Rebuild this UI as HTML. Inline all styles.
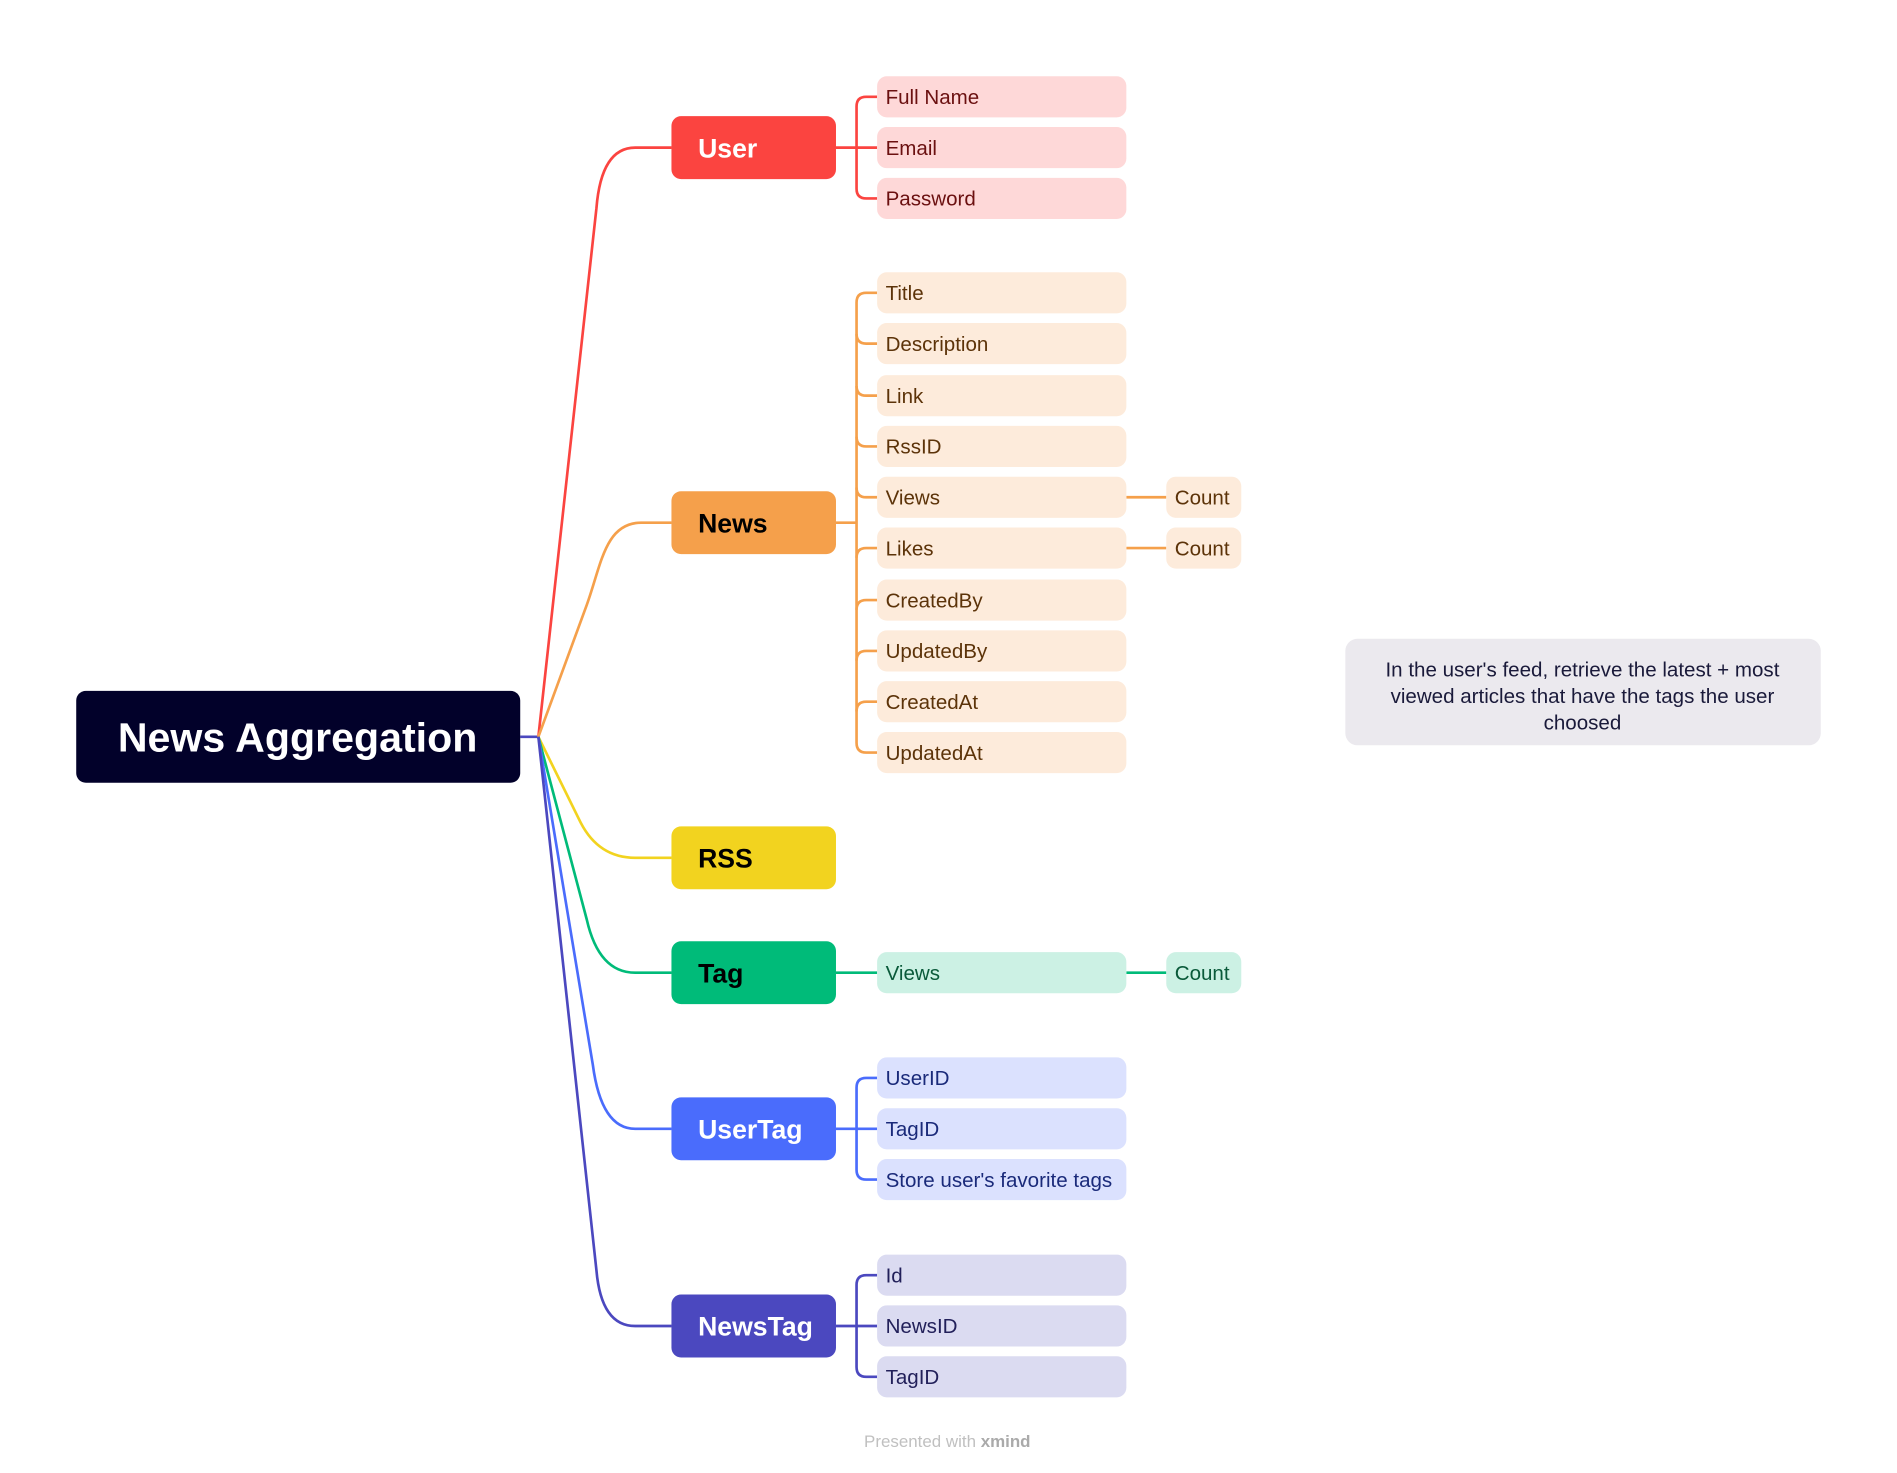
<!DOCTYPE html>
<html><head><meta charset="utf-8"><style>
html,body{margin:0;padding:0;background:#fff;}
svg{display:block;}
text{font-family:"Liberation Sans",sans-serif;}
</style></head><body>
<svg width="1897" height="1473" viewBox="0 0 1568 1217.5" xmlns="http://www.w3.org/2000/svg">
<g fill="none" stroke-width="2.2">
<path d="M430 609 L445 609" stroke="#4b48bf"/>
<path d="M445 609 L493 172 Q497 122 525 122 L555 122" stroke="#fb4440"/>
<path d="M445 609 L485 500 C497 467 500 432 530 432 L555 432" stroke="#f5a04b"/>
<path d="M445 609 L480 680 Q495 709 525 709 L555 709" stroke="#f2d31f"/>
<path d="M445 609 L485 760 Q495 804 525 804 L555 804" stroke="#00bb79"/>
<path d="M445 609 L490 880 Q497 933 525 933 L555 933" stroke="#4a6cfc"/>
<path d="M445 609 L493 1050 Q497 1096 525 1096 L555 1096" stroke="#4b48bf"/>
<g stroke="#fb4440"><path d="M691 122 L725 122"/><path d="M725 80 L716 80 Q708 80 708 88 L708 156 Q708 164 716 164 L725 164"/></g>
<g stroke="#f5a04b"><path d="M691 432 L708 432"/><path d="M725 242 L716 242 Q708 242 708 250 L708 614 Q708 622 716 622 L725 622"/>
<path d="M708 276 Q708 284 716 284 L725 284"/><path d="M708 319 Q708 327 716 327 L725 327"/><path d="M708 361 Q708 369 716 369 L725 369"/><path d="M708 403 Q708 411 716 411 L725 411"/><path d="M708 461 Q708 453 716 453 L725 453"/><path d="M708 504 Q708 496 716 496 L725 496"/><path d="M708 546 Q708 538 716 538 L725 538"/><path d="M708 588 Q708 580 716 580 L725 580"/>
<path d="M931 411 L964 411"/><path d="M931 453 L964 453"/></g>
<g stroke="#00bb79"><path d="M691 804 L725 804"/><path d="M931 804 L964 804"/></g>
<g stroke="#4a6cfc"><path d="M691 933 L725 933"/><path d="M725 891 L716 891 Q708 891 708 899 L708 967 Q708 975 716 975 L725 975"/></g>
<g stroke="#4b48bf"><path d="M691 1096 L725 1096"/><path d="M725 1054 L716 1054 Q708 1054 708 1062 L708 1130 Q708 1138 716 1138 L725 1138"/></g>
</g>
<rect x="63" y="571" width="367" height="76" rx="8" fill="#02012a"/>
<text x="246" y="621" fill="#fff" font-size="34" font-weight="bold" text-anchor="middle">News Aggregation</text>
<g font-size="22" font-weight="bold">
<rect x="555" y="96" width="136" height="52" rx="8" fill="#fb4440"/><text x="577" y="130" fill="#fff">User</text>
<rect x="555" y="406" width="136" height="52" rx="8" fill="#f5a04b"/><text x="577" y="440" fill="#000">News</text>
<rect x="555" y="683" width="136" height="52" rx="8" fill="#f2d31f"/><text x="577" y="717" fill="#000">RSS</text>
<rect x="555" y="778" width="136" height="52" rx="8" fill="#00bb79"/><text x="577" y="812" fill="#000">Tag</text>
<rect x="555" y="907" width="136" height="52" rx="8" fill="#4a6cfc"/><text x="577" y="941" fill="#fff">UserTag</text>
<rect x="555" y="1070" width="136" height="52" rx="8" fill="#4b48bf"/><text x="577" y="1104" fill="#fff">NewsTag</text>
</g>
<g font-size="17">
<g fill="#fed8d8"><rect x="725" y="63" width="206" height="34" rx="8"/><rect x="725" y="105" width="206" height="34" rx="8"/><rect x="725" y="147" width="206" height="34" rx="8"/></g>
<g fill="#6b1010"><text x="732" y="86">Full Name</text><text x="732" y="128">Email</text><text x="732" y="170">Password</text></g>
<g fill="#fdebdb"><rect x="725" y="225" width="206" height="34" rx="8"/><rect x="725" y="267" width="206" height="34" rx="8"/><rect x="725" y="310" width="206" height="34" rx="8"/><rect x="725" y="352" width="206" height="34" rx="8"/><rect x="725" y="394" width="206" height="34" rx="8"/><rect x="725" y="436" width="206" height="34" rx="8"/><rect x="725" y="479" width="206" height="34" rx="8"/><rect x="725" y="521" width="206" height="34" rx="8"/><rect x="725" y="563" width="206" height="34" rx="8"/><rect x="725" y="605" width="206" height="34" rx="8"/><rect x="964" y="394" width="62" height="34" rx="8"/><rect x="964" y="436" width="62" height="34" rx="8"/></g>
<g fill="#5c3309"><text x="732" y="248">Title</text><text x="732" y="290">Description</text><text x="732" y="333">Link</text><text x="732" y="375">RssID</text><text x="732" y="417">Views</text><text x="732" y="459">Likes</text><text x="732" y="502">CreatedBy</text><text x="732" y="544">UpdatedBy</text><text x="732" y="586">CreatedAt</text><text x="732" y="628">UpdatedAt</text><text x="971" y="417">Count</text><text x="971" y="459">Count</text></g>
<g fill="#ccf1e4"><rect x="725" y="787" width="206" height="34" rx="8"/><rect x="964" y="787" width="62" height="34" rx="8"/></g>
<g fill="#0a5a3a"><text x="732" y="810">Views</text><text x="971" y="810">Count</text></g>
<g fill="#dbe1fe"><rect x="725" y="874" width="206" height="34" rx="8"/><rect x="725" y="916" width="206" height="34" rx="8"/><rect x="725" y="958" width="206" height="34" rx="8"/></g>
<g fill="#1a2a7a"><text x="732" y="897">UserID</text><text x="732" y="939">TagID</text><text x="732" y="981">Store user's favorite tags</text></g>
<g fill="#dbdbf1"><rect x="725" y="1037" width="206" height="34" rx="8"/><rect x="725" y="1079" width="206" height="34" rx="8"/><rect x="725" y="1121" width="206" height="34" rx="8"/></g>
<g fill="#22205a"><text x="732" y="1060">Id</text><text x="732" y="1102">NewsID</text><text x="732" y="1144">TagID</text></g>
</g>
<rect x="1112" y="528" width="393" height="88" rx="10" fill="#ebe9ee"/>
<g font-size="17" fill="#1a1a3a" text-anchor="middle"><text x="1308" y="559">In the user's feed, retrieve the latest + most</text><text x="1308" y="581">viewed articles that have the tags the user</text><text x="1308" y="603">choosed</text></g>
<text x="783" y="1196" font-size="14" fill="#c0c0c0" text-anchor="middle">Presented with <tspan font-weight="bold" fill="#aaa">xmind</tspan></text>
</svg>
</body></html>
